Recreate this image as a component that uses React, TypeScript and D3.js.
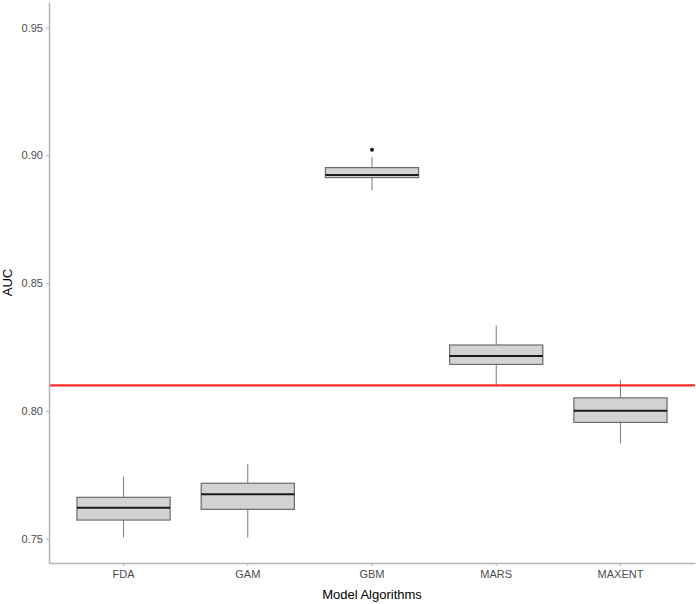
import React, { useEffect, useRef } from 'react';
import * as d3 from 'd3';

// box statistics
const categories = ['FDA', 'GAM', 'GBM', 'MARS', 'MAXENT'];
const whiskerLow = [0.7505, 0.7505, 0.8863, 0.8095, 0.7873];
const q1 = [0.7573, 0.7615, 0.8913, 0.8182, 0.7955];
const median = [0.7621, 0.7674, 0.8923, 0.8215, 0.8001];
const q3 = [0.7662, 0.7717, 0.8952, 0.8258, 0.8051];
const whiskerHigh = [0.7743, 0.7792, 0.8993, 0.8334, 0.8121];
const outliers = [[], [], [0.9022], [], []];
const yTicks = [0.75, 0.8, 0.85, 0.9, 0.95];
const threshold = 0.81;

const W = 696;
const H = 604;

export default function App() {
  const ref = useRef<SVGSVGElement>(null);

  useEffect(() => {
    const margins = { t: 2, r: 1, b: 41, l: 49 };
    const svg = d3.select(ref.current);
    svg.selectAll('*').remove();

    const x = d3.scaleBand()
      .domain(categories)
      .range([margins.l, W - margins.r])
      .paddingOuter(0.1)
      .paddingInner(0);
    const y = d3.scaleLinear()
      .domain([0.7405, 0.96])
      .range([H - margins.b, margins.t]);

    const font = '"Liberation Sans", Arial, sans-serif';
    const bw = x.bandwidth() * 0.75;

    const data = categories.map((c, i) => ({
      c, lo: whiskerLow[i], q1: q1[i], med: median[i], q3: q3[i], hi: whiskerHigh[i], out: outliers[i]
    }));

    const g = svg.append('g');
    const boxes = g.selectAll('.box').data(data).join('g').attr('class', 'box');
    const cx = (d: any) => (x(d.c) as number) + x.bandwidth() / 2;

    boxes.append('line')
      .attr('x1', cx).attr('x2', cx)
      .attr('y1', (d) => y(d.hi)).attr('y2', (d) => y(d.q3))
      .attr('stroke', '#7a7a7a').attr('stroke-width', 1);
    boxes.append('line')
      .attr('x1', cx).attr('x2', cx)
      .attr('y1', (d) => y(d.q1)).attr('y2', (d) => y(d.lo))
      .attr('stroke', '#7a7a7a').attr('stroke-width', 1);
    boxes.append('rect')
      .attr('x', (d) => cx(d) - bw / 2)
      .attr('width', bw)
      .attr('y', (d) => y(d.q3))
      .attr('height', (d) => y(d.q1) - y(d.q3))
      .attr('fill', '#d3d3d3')
      .attr('stroke', '#6b6b6b')
      .attr('stroke-width', 1.2);
    boxes.append('line')
      .attr('x1', (d) => cx(d) - bw / 2).attr('x2', (d) => cx(d) + bw / 2)
      .attr('y1', (d) => y(d.med)).attr('y2', (d) => y(d.med))
      .attr('stroke', '#1a1a1a').attr('stroke-width', 2);
    boxes.selectAll('circle').data((d) => d.out.map((v) => ({ c: d.c, v }))).join('circle')
      .attr('cx', cx).attr('cy', (d: any) => y(d.v)).attr('r', 2)
      .attr('fill', '#1a1a1a');

    // threshold line
    g.append('line')
      .attr('x1', margins.l).attr('x2', W - margins.r)
      .attr('y1', y(threshold)).attr('y2', y(threshold))
      .attr('stroke', '#ff2a2a').attr('stroke-width', 2.2);

    // axes
    const yaxis = svg.append('g')
      .attr('transform', `translate(${margins.l},0)`)
      .call(d3.axisLeft(y).tickValues(yTicks).tickSize(3).tickSizeOuter(0).tickPadding(3).tickFormat(d3.format('.2f')));
    const xaxis = svg.append('g')
      .attr('transform', `translate(0,${H - margins.b})`)
      .call(d3.axisBottom(x).tickSize(3).tickSizeOuter(0).tickPadding(4));
    [yaxis, xaxis].forEach((a) => {
      a.select('.domain').attr('stroke', '#b3b3b3').attr('stroke-width', 1.5);
      a.selectAll('.tick line').attr('stroke', '#b3b3b3');
      a.selectAll('.tick text').attr('fill', '#4d4d4d').style('font-size', '11px').style('font-family', font);
    });

    svg.append('text')
      .attr('transform', `translate(12,${(y(0.96) + y(0.7405)) / 2}) rotate(-90)`)
      .attr('text-anchor', 'middle')
      .style('font-family', font).style('font-size', '13px')
      .text('AUC');
    svg.append('text')
      .attr('x', (margins.l + W - margins.r) / 2)
      .attr('y', 599)
      .attr('text-anchor', 'middle')
      .style('font-family', font).style('font-size', '13px')
      .text('Model Algorithms');
  }, []);

  return <svg ref={ref} width={W} height={H} style={{ position: 'absolute', left: 0, top: 0, background: '#fff' }} />;
}
